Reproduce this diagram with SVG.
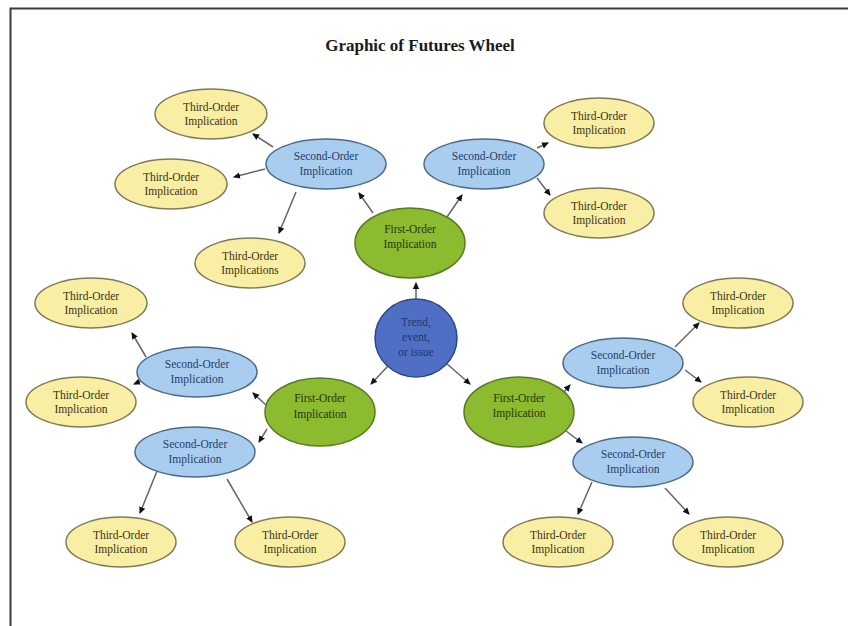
<svg xmlns="http://www.w3.org/2000/svg" width="848" height="626" viewBox="0 0 848 626">
<style>
text{font-family:"Liberation Serif","Times New Roman",serif;font-size:11.5px;text-anchor:middle}
.title{font-size:17px;font-weight:bold;fill:#1a1a1a}
.t3 ellipse{fill:#f8efa4;stroke:#7f7a55;stroke-width:1.5}
.t3 text{fill:#3b3214}
.t2 ellipse{fill:#a9cdee;stroke:#4d6a88;stroke-width:1.5}
.t2 text{fill:#24406a}
.t1 ellipse{fill:#8cbb2f;stroke:#577a26;stroke-width:1.5}
.t1 text{fill:#24360f}
.t0 ellipse{fill:#4f6fc4;stroke:#2c478a;stroke-width:1.5}
.t0 text{fill:#23356e}
.c line{stroke:#666;stroke-width:1.5;marker-end:url(#ah)}
</style>
<defs>
<marker id="ah" markerUnits="userSpaceOnUse" markerWidth="8" markerHeight="8" refX="6" refY="4" orient="auto">
<path d="M0,0.8 L7,4 L0,7.2 Z" fill="#111"/>
</marker>
</defs>
<rect width="848" height="626" fill="#fff"/>
<path d="M10.5,626 V8.5 H848" fill="none" stroke="#3a3a3a" stroke-width="2"/>
<text class="title" x="420" y="51">Graphic of Futures Wheel</text>

<g class="c" id="connectors">
<line x1="416" y1="299" x2="416" y2="283"/>
<line x1="388" y1="366" x2="371" y2="384"/>
<line x1="446" y1="363" x2="470" y2="384"/>
<line x1="373" y1="213" x2="359" y2="193"/>
<line x1="447" y1="217" x2="462" y2="195"/>
<line x1="273" y1="147" x2="253" y2="134"/>
<line x1="265" y1="169" x2="234" y2="177"/>
<line x1="296" y1="192" x2="279" y2="233"/>
<line x1="537" y1="148" x2="548" y2="143"/>
<line x1="537" y1="178" x2="550" y2="195"/>
<line x1="266" y1="405" x2="253" y2="393"/>
<line x1="267" y1="429" x2="259" y2="442"/>
<line x1="146" y1="357" x2="132" y2="333"/>
<line x1="141" y1="381" x2="134" y2="384"/>
<line x1="157" y1="471" x2="140" y2="513"/>
<line x1="227" y1="479" x2="252" y2="522"/>
<line x1="564" y1="392" x2="570" y2="385"/>
<line x1="566" y1="431" x2="582" y2="443"/>
<line x1="675" y1="347" x2="699" y2="323"/>
<line x1="685" y1="370" x2="701" y2="382"/>
<line x1="592" y1="482" x2="578" y2="514"/>
<line x1="665" y1="488" x2="689" y2="514"/>
</g>

<g id="center" class="t0">
<ellipse cx="416" cy="338" rx="41" ry="39"/>
<text x="416" y="326">Trend,</text>
<text x="416" y="341">event,</text>
<text x="416" y="356">or issue</text>
</g>

<g id="first-top" class="t1">
<ellipse cx="410" cy="243" rx="55" ry="35"/>
<text x="410" y="233">First-Order</text>
<text x="410" y="248">Implication</text>
</g>
<g id="first-left" class="t1">
<ellipse cx="320" cy="412" rx="55" ry="34"/>
<text x="320" y="402">First-Order</text>
<text x="320" y="418">Implication</text>
</g>
<g id="first-right" class="t1">
<ellipse cx="519" cy="412" rx="55" ry="35"/>
<text x="519" y="402">First-Order</text>
<text x="519" y="417">Implication</text>
</g>

<g id="second-tl" class="t2">
<ellipse cx="326" cy="164" rx="60" ry="25"/>
<text x="326" y="160">Second-Order</text>
<text x="326" y="175">Implication</text>
</g>
<g id="second-tr" class="t2">
<ellipse cx="484" cy="164" rx="60" ry="25"/>
<text x="484" y="160">Second-Order</text>
<text x="484" y="175">Implication</text>
</g>
<g id="second-l" class="t2">
<ellipse cx="197" cy="372" rx="60" ry="25"/>
<text x="197" y="368">Second-Order</text>
<text x="197" y="383">Implication</text>
</g>
<g id="second-bl" class="t2">
<ellipse cx="195" cy="452" rx="60" ry="25"/>
<text x="195" y="448">Second-Order</text>
<text x="195" y="463">Implication</text>
</g>
<g id="second-r" class="t2">
<ellipse cx="623" cy="363" rx="60" ry="25"/>
<text x="623" y="359">Second-Order</text>
<text x="623" y="374">Implication</text>
</g>
<g id="second-br" class="t2">
<ellipse cx="633" cy="462" rx="60" ry="25"/>
<text x="633" y="458">Second-Order</text>
<text x="633" y="473">Implication</text>
</g>

<g id="third-tl1" class="t3">
<ellipse cx="211" cy="114" rx="56" ry="25"/>
<text x="211" y="111">Third-Order</text>
<text x="211" y="125">Implication</text>
</g>
<g id="third-tl2" class="t3">
<ellipse cx="171" cy="184" rx="56" ry="25"/>
<text x="171" y="181">Third-Order</text>
<text x="171" y="195">Implication</text>
</g>
<g id="third-tl3" class="t3">
<ellipse cx="250" cy="263" rx="55" ry="25"/>
<text x="250" y="260">Third-Order</text>
<text x="250" y="274">Implications</text>
</g>
<g id="third-tr1" class="t3">
<ellipse cx="599" cy="123" rx="55" ry="25"/>
<text x="599" y="120">Third-Order</text>
<text x="599" y="134">Implication</text>
</g>
<g id="third-tr2" class="t3">
<ellipse cx="599" cy="213" rx="55" ry="25"/>
<text x="599" y="210">Third-Order</text>
<text x="599" y="224">Implication</text>
</g>
<g id="third-l1" class="t3">
<ellipse cx="91" cy="303" rx="56" ry="25"/>
<text x="91" y="300">Third-Order</text>
<text x="91" y="314">Implication</text>
</g>
<g id="third-l2" class="t3">
<ellipse cx="81" cy="402" rx="55" ry="25"/>
<text x="81" y="399">Third-Order</text>
<text x="81" y="413">Implication</text>
</g>
<g id="third-bl1" class="t3">
<ellipse cx="121" cy="542" rx="55" ry="25"/>
<text x="121" y="539">Third-Order</text>
<text x="121" y="553">Implication</text>
</g>
<g id="third-bl2" class="t3">
<ellipse cx="290" cy="542" rx="55" ry="25"/>
<text x="290" y="539">Third-Order</text>
<text x="290" y="553">Implication</text>
</g>
<g id="third-r1" class="t3">
<ellipse cx="738" cy="303" rx="55" ry="25"/>
<text x="738" y="300">Third-Order</text>
<text x="738" y="314">Implication</text>
</g>
<g id="third-r2" class="t3">
<ellipse cx="748" cy="402" rx="55" ry="25"/>
<text x="748" y="399">Third-Order</text>
<text x="748" y="413">Implication</text>
</g>
<g id="third-br1" class="t3">
<ellipse cx="558" cy="542" rx="55" ry="25"/>
<text x="558" y="539">Third-Order</text>
<text x="558" y="553">Implication</text>
</g>
<g id="third-br2" class="t3">
<ellipse cx="728" cy="542" rx="55" ry="25"/>
<text x="728" y="539">Third-Order</text>
<text x="728" y="553">Implication</text>
</g>
</svg>
